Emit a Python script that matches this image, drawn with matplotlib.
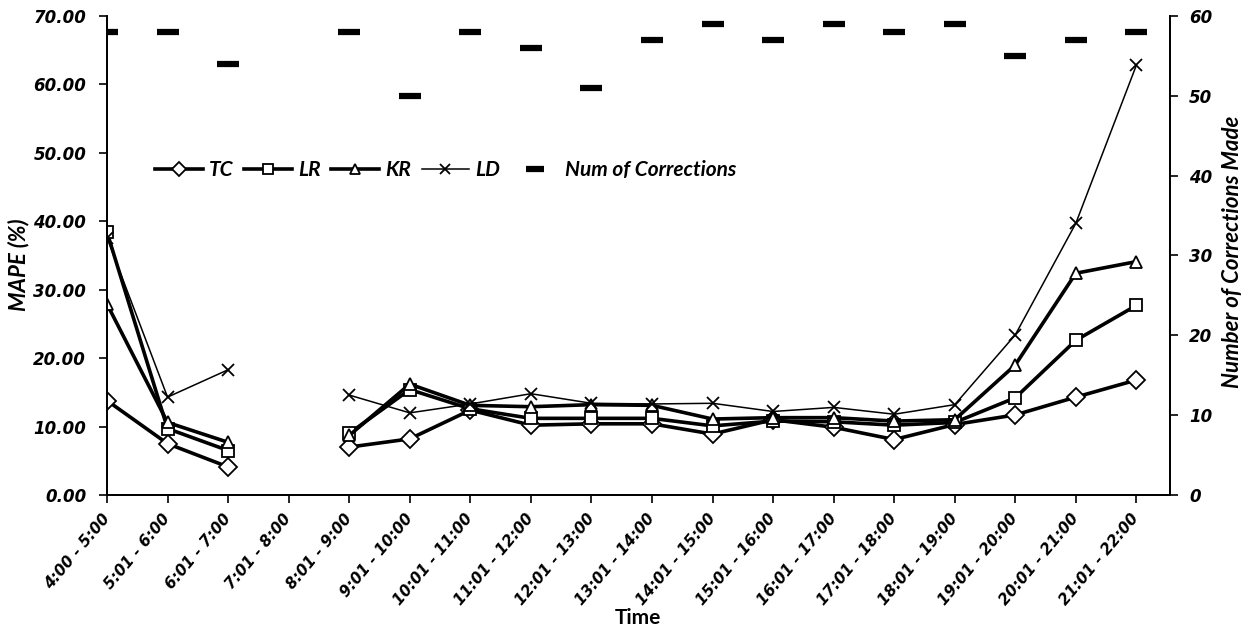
import numpy as np
import matplotlib
matplotlib.use("Agg")
import matplotlib.pyplot as plt
from matplotlib.font_manager import FontProperties

# time slots on the x axis
slots = ["4:00 - 5:00", "5:01 - 6:00", "6:01 - 7:00", "7:01 - 8:00", "8:01 - 9:00",
         "9:01 - 10:00", "10:01 - 11:00", "11:01 - 12:00", "12:01 - 13:00",
         "13:01 - 14:00", "14:01 - 15:00", "15:01 - 16:00", "16:01 - 17:00",
         "17:01 - 18:00", "18:01 - 19:00", "19:01 - 20:00", "20:01 - 21:00",
         "21:01 - 22:00"]

nan = np.nan
# MAPE (%) per method, no data for 7:01 - 8:00
tc = [13.8, 7.5, 4.1, nan, 7.0, 8.2, 12.4, 10.2, 10.4, 10.4, 8.9, 11.0, 9.9, 8.1, 10.3, 11.7, 14.3, 16.8]
lr = [38.4, 9.7, 6.5, nan, 9.0, 15.4, 12.6, 11.2, 11.2, 11.2, 10.1, 10.8, 10.7, 10.2, 10.6, 14.2, 22.6, 27.7]
kr = [27.9, 10.6, 7.7, nan, 8.7, 16.2, 13.1, 12.9, 13.2, 13.1, 11.1, 11.3, 11.3, 10.8, 11.0, 19.0, 32.4, 34.1]
ld = [37.6, 14.3, 18.3, nan, 14.6, 12.0, 13.3, 14.8, 13.4, 13.3, 13.4, 12.2, 12.8, 11.8, 13.2, 23.4, 39.7, 62.8]

# number of corrections made (right axis)
num_corr = [58, 58, 54, nan, 58, 50, 58, 56, 51, 57, 59, 57, 59, 58, 59, 55, 57, 58]

x = np.arange(len(slots))

fig = plt.figure(figsize=(12.47, 6.36), dpi=100)
ax = fig.add_axes([0.0858, 0.2217, 0.8522, 0.7533])
ax2 = ax.twinx()

thick = dict(color="black", lw=2.6, markerfacecolor="white", markeredgecolor="black", markeredgewidth=1.3)
l_tc, = ax.plot(x, tc, marker="D", markersize=9, label="TC", **thick)
l_lr, = ax.plot(x, lr, marker="s", markersize=8.5, label="LR", **thick)
l_kr, = ax.plot(x, kr, marker="^", markersize=8.5, label="KR", **thick)
l_ld, = ax.plot(x, ld, marker="x", markersize=9, color="black", lw=1.1,
                markeredgewidth=1.3, label="LD")

l_nc, = ax2.plot(x, num_corr, ls="none", marker="_", markersize=16,
                 markeredgewidth=4.5, color="black", label="Num of Corrections")

ax.set_xlim(0, 17.55)
ax.set_ylim(0, 70)
ax2.set_ylim(0, 60)
ax.set_yticks(np.arange(0, 71, 10))
ax2.set_yticks(np.arange(0, 61, 10))
ax.set_yticklabels(["%.2f" % v for v in np.arange(0, 71, 10)])

tickfont = FontProperties(family="DejaVu Sans", weight="bold", style="italic", size=12)
ax.set_xticks(x)
ax.set_xticklabels(slots, rotation=50, ha="right", va="center", rotation_mode="anchor",
                   family="DejaVu Sans", weight="bold", style="italic", size=11)
for lab in ax.get_yticklabels() + ax2.get_yticklabels():
    lab.set_fontproperties(tickfont)

for a in (ax, ax2):
    a.spines["top"].set_visible(False)
    for s in a.spines.values():
        s.set_linewidth(1.3)
    a.tick_params(direction="out", length=6, width=1.2, colors="black")
ax.tick_params(axis="y", pad=9)
ax2.tick_params(axis="y", pad=8)
ax.tick_params(axis="x", pad=9)

labfont = dict(family="Lato", weight="bold", style="italic", size=16)
ax.set_ylabel("MAPE (%)", **labfont)
ax.yaxis.set_label_coords(-0.073, 0.48)
ax2.set_ylabel("Number of Corrections Made", **labfont)
ax2.yaxis.set_label_coords(1.049, 0.507)
ax.set_xlabel("Time", family="Lato", weight="bold", size=15, labelpad=0)

handles = [l_tc, l_lr, l_kr, l_ld, l_nc]
leg = fig.legend(handles=handles, loc="center left", bbox_to_anchor=(0.124, 0.733),
                 ncol=5, frameon=False, handlelength=2.3, handletextpad=0.3,
                 columnspacing=0.5, borderaxespad=0, borderpad=0, markerscale=0.8,
                 prop=dict(family="Lato", weight="bold", style="italic", size=15))

fig.savefig("out.png", dpi=100)
